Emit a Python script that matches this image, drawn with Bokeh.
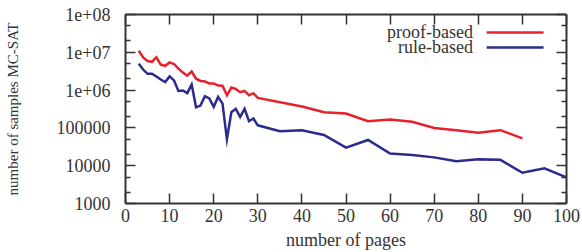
from bokeh.plotting import figure
from bokeh.models import Range1d, FixedTicker, LinearAxis, CustomJSTickFormatter, Label, Arrow
from bokeh.embed import file_html
from bokeh.resources import INLINE

# ---- data ----
proof_pages = [3, 4, 5, 6, 7, 8, 9, 10, 11, 12, 13, 14, 15, 16, 17, 18, 19, 20,
               21, 22, 23, 24, 25, 26, 27, 28, 29, 30, 40, 45, 50, 55, 60, 65,
               70, 75, 80, 85, 90]
proof_samples = [1.1e7, 7.3e6, 5.9e6, 5.6e6, 7.4e6, 4.7e6, 4.4e6, 5.4e6, 4.9e6,
                 3.7e6, 2.9e6, 2.4e6, 3.1e6, 2.0e6, 1.75e6, 1.7e6, 1.5e6, 1.5e6,
                 1.32e6, 1.3e6, 7.3e5, 1.17e6, 1.07e6, 8.8e5, 9.5e5, 7.3e5, 8.3e5,
                 6.2e5, 3.7e5, 2.6e5, 2.4e5, 1.5e5, 1.66e5, 1.45e5, 1.0e5, 8.7e4,
                 7.4e4, 8.7e4, 5.3e4]

rule_pages = [3, 4, 5, 6, 7, 8, 9, 10, 11, 12, 13, 14, 15, 16, 17, 18, 19, 20,
              21, 22, 23, 24, 25, 26, 27, 28, 29, 30, 35, 40, 45, 50, 55, 60,
              65, 70, 75, 80, 85, 90, 95, 100]
rule_samples = [5.0e6, 3.5e6, 2.7e6, 2.7e6, 2.3e6, 1.9e6, 1.63e6, 2.3e6, 1.8e6,
                9.5e5, 9.8e5, 8.3e5, 1.4e6, 3.5e5, 3.9e5, 6.9e5, 6.0e5, 3.6e5,
                6.6e5, 4.4e5, 5.0e4, 2.6e5, 3.2e5, 1.95e5, 3.2e5, 1.5e5, 1.77e5,
                1.17e5, 8.2e4, 8.7e4, 6.5e4, 3.0e4, 4.8e4, 2.1e4, 1.92e4, 1.66e4,
                1.32e4, 1.47e4, 1.43e4, 6.5e3, 8.5e3, 4.9e3]

series_names = ["proof-based", "rule-based"]
x_ticks = [0, 10, 20, 30, 40, 50, 60, 70, 80, 90, 100]
y_ticks = [1e3, 1e4, 1e5, 1e6, 1e7, 1e8]
y_tick_labels = ["1000", "10000", "100000", "1e+06", "1e+07", "1e+08"]
y_minor_ticks = [m * 10 ** k for k in range(3, 8) for m in (2, 5)]

RED = "#e8202a"
BLUE = "#2b2b8e"
TXT = "#333333"
AX = "#333333"
FONT = "Liberation Serif"

p = figure(width=582, height=252, x_range=Range1d(0, 100), y_range=Range1d(1e3, 1e8),
           y_axis_type="log", output_backend="svg", toolbar_location=None,
           min_border_left=125, min_border_right=16, min_border_top=14, min_border_bottom=49)
p.grid.visible = False
p.outline_line_color = None
p.background_fill_color = "white"
p.border_fill_color = "white"

p.line(proof_pages, proof_samples, line_color=RED, line_width=2.5, line_join="miter")
p.line(rule_pages, rule_samples, line_color=BLUE, line_width=2.5, line_join="miter")

fmt = CustomJSTickFormatter(args=dict(vals=y_ticks, labs=y_tick_labels), code="""
for (let i = 0; i < vals.length; i++) {
  if (Math.abs(Math.log10(tick) - Math.log10(vals[i])) < 1e-6) return labs[i];
}
return '';
""")
blank = CustomJSTickFormatter(code="return '';")


def style(ax, minor=False):
    ax.axis_line_width = 2
    ax.axis_line_color = AX
    ax.major_tick_in = 10
    ax.major_tick_out = 0
    ax.major_tick_line_width = 1.5
    ax.major_tick_line_color = AX
    if minor:
        ax.minor_tick_in = 5
        ax.minor_tick_out = 0
        ax.minor_tick_line_width = 1.5
        ax.minor_tick_line_color = AX
    else:
        ax.minor_tick_line_color = None
    ax.major_label_text_font = FONT
    ax.major_label_text_font_size = "18px"
    ax.major_label_text_color = TXT
    ax.axis_label_text_font = FONT
    ax.axis_label_text_font_size = "18px"
    ax.axis_label_text_font_style = "normal"
    ax.axis_label_text_color = TXT


xa = p.xaxis[0]
xa.ticker = FixedTicker(ticks=x_ticks)
style(xa)
xa.axis_label = "number of pages"
xa.major_label_standoff = 5
xa.axis_label_standoff = 5

ya = p.yaxis[0]
ya.ticker = FixedTicker(ticks=y_ticks, minor_ticks=y_minor_ticks)
ya.formatter = fmt
style(ya, minor=True)
ya.axis_label = "number of samples MC-SAT"
ya.axis_label_text_font_size = "15px"
ya.major_label_standoff = 15
ya.axis_label_standoff = 33

top = LinearAxis(ticker=FixedTicker(ticks=x_ticks), formatter=blank)
style(top)
top.major_label_text_font_size = "0px"
top.major_label_standoff = 0
p.add_layout(top, "above")

right = LinearAxis(ticker=FixedTicker(ticks=y_ticks, minor_ticks=y_minor_ticks), formatter=blank)
style(right, minor=True)
right.major_label_text_font_size = "0px"
right.major_label_standoff = 0
p.add_layout(right, "right")

# legend (text left of line sample)
leg_y = [10 ** 7.524, 10 ** 7.127]
for name, col, yy in zip(series_names, [RED, BLUE], leg_y):
    p.add_layout(Label(x=78.8, y=yy, text=name, text_align="right", text_baseline="middle",
                       text_font=FONT, text_font_size="18px", text_color=TXT))
    p.add_layout(Arrow(end=None, x_start=81.9, y_start=yy, x_end=94.8, y_end=yy,
                       line_color=col, line_width=2.5))

open("out.html", "w").write(file_html(p, INLINE))
